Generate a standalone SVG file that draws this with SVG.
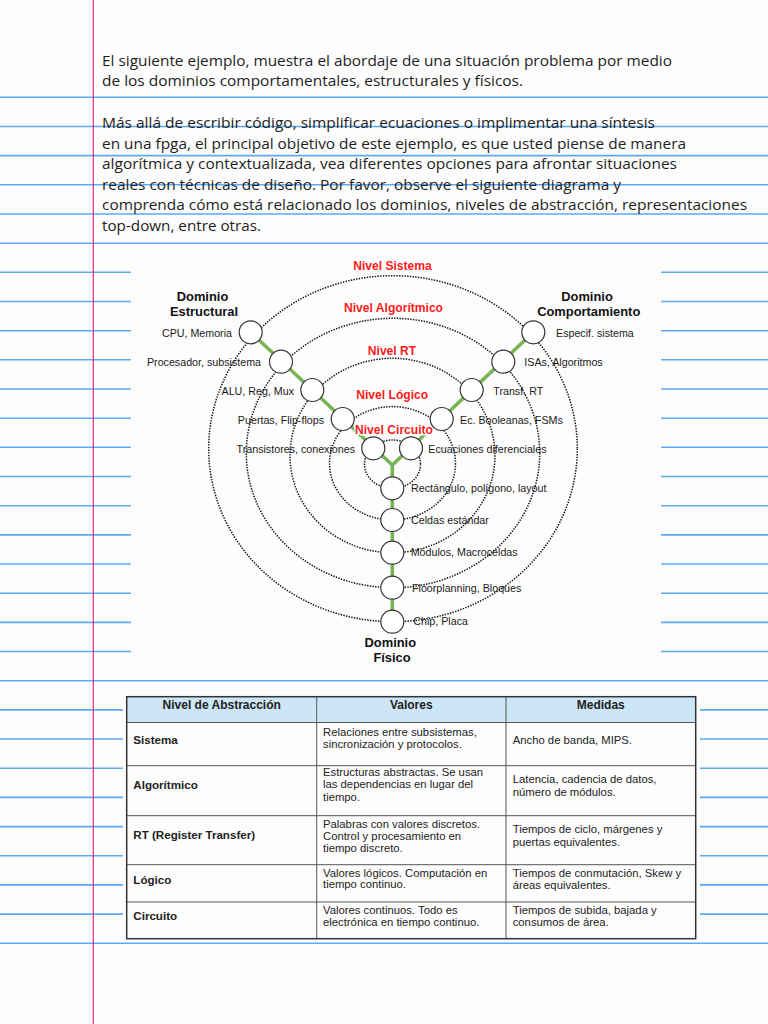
<svg xmlns="http://www.w3.org/2000/svg" width="768" height="1024" viewBox="0 0 768 1024">
<style>
.rule{stroke:#5ea9f4;stroke-width:1.6;fill:none}
.margin{stroke:#e0287f;stroke-width:1.2}
.para{font-family:"Open Sans","Noto Sans",sans-serif;font-size:15px;fill:#1e1e1e}
.ring{fill:none;stroke:#111;stroke-width:1.5;stroke-dasharray:1.4 1.3}
.axis{fill:none;stroke:#78b356;stroke-width:3.6;stroke-linejoin:round}
.node{fill:#fff;stroke:#333;stroke-width:1.2}
.lbl{font-family:"Liberation Sans",Arial,sans-serif;font-size:10.7px;fill:#1a1a1a}
.end{text-anchor:end}
.dom{font-family:"Liberation Sans",Arial,sans-serif;font-size:12.9px;font-weight:bold;fill:#111;text-anchor:middle}
.lvl{font-family:"Liberation Sans",Arial,sans-serif;font-size:12.1px;font-weight:bold;fill:#ff1a1a;text-anchor:middle;stroke:#fff;stroke-width:3;paint-order:stroke;stroke-linejoin:round}
.th{font-family:"Liberation Sans",Arial,sans-serif;font-size:12px;font-weight:bold;fill:#222;text-anchor:middle}
.tr{font-family:"Liberation Sans",Arial,sans-serif;font-size:11.6px;font-weight:bold;fill:#222}
.td{font-family:"Liberation Sans",Arial,sans-serif;font-size:11.3px;fill:#222}
.grid{stroke:#555;stroke-width:1;fill:none}
</style>
<rect width="768" height="1024" fill="#fdfdfd"/>
<g id="ruled-lines">
<path class="rule" d="M0,97.3H768M0,126.5H768M0,155.6H768M0,184.8H768M0,214H768M0,243.2H768
M0,272.3H131M661,272.3H768M0,301.5H131M661,301.5H768M0,330.7H131M661,330.7H768M0,359.8H131M661,359.8H768
M0,389H131M661,389H768M0,418.2H131M661,418.2H768M0,447.3H131M661,447.3H768M0,476.5H131M661,476.5H768
M0,505.7H131M661,505.7H768M0,534.9H131M661,534.9H768M0,564H131M661,564H768M0,593.2H131M661,593.2H768
M0,622.4H131M661,622.4H768M0,651.5H131M661,651.5H768M0,680.7H768
M0,709.9H123M700,709.9H768M0,739H123M700,739H768M0,768.2H123M700,768.2H768M0,797.4H123M700,797.4H768
M0,826.6H123M700,826.6H768M0,855.7H123M700,855.7H768M0,884.9H123M700,884.9H768M0,914.1H123M700,914.1H768
M0,943.2H768"/>
<line class="margin" x1="93.3" y1="0" x2="93.3" y2="1024"/>
</g>
<g id="intro">
<text class="para" x="102" y="65.5" textLength="570" lengthAdjust="spacingAndGlyphs">El siguiente ejemplo, muestra el abordaje de una situación problema por medio</text>
<text class="para" x="102" y="86.3" textLength="421" lengthAdjust="spacingAndGlyphs">de los dominios comportamentales, estructurales y físicos.</text>
<text class="para" x="102" y="128" textLength="553" lengthAdjust="spacingAndGlyphs">Más allá de escribir código, simplificar ecuaciones o implimentar una síntesis</text>
<text class="para" x="102" y="148.6" textLength="584" lengthAdjust="spacingAndGlyphs">en una fpga, el principal objetivo de este ejemplo, es que usted piense de manera</text>
<text class="para" x="102" y="169.2" textLength="575" lengthAdjust="spacingAndGlyphs">algorítmica y contextualizada, vea diferentes opciones para afrontar situaciones</text>
<text class="para" x="102" y="189.8" textLength="519" lengthAdjust="spacingAndGlyphs">reales con técnicas de diseño. Por favor, observe el siguiente diagrama y</text>
<text class="para" x="102" y="210.3" textLength="645" lengthAdjust="spacingAndGlyphs">comprenda cómo está relacionado los dominios, niveles de abstracción, representaciones</text>
<text class="para" x="102" y="231" textLength="159" lengthAdjust="spacingAndGlyphs">top-down, entre otras.</text>
</g>
<g id="connectors">
<ellipse class="ring" cx="393" cy="448.7" rx="184.3" ry="173"/>
<ellipse class="ring" cx="393" cy="453" rx="146.7" ry="134.7"/>
<ellipse class="ring" cx="392.5" cy="455.5" rx="102.5" ry="97.2"/>
<ellipse class="ring" cx="392.5" cy="463.3" rx="63" ry="56.7"/>
<ellipse class="ring" cx="392.5" cy="464.2" rx="28" ry="24.2"/>
<path class="axis" d="M250.7,332.3L392.3,465L533.3,332.3M392.3,465V621.7"/>
</g>
<g id="domain-labels">
<text class="dom" x="202.5" y="301.3">Dominio</text>
<text class="dom" x="204" y="315.6">Estructural</text>
<text class="dom" x="587" y="301.3">Dominio</text>
<text class="dom" x="588.7" y="315.6">Comportamiento</text>
<text class="dom" x="390.3" y="647.3">Dominio</text>
<text class="dom" x="392" y="661.9">Físico</text>
</g>
<g id="level-labels">
<text class="lvl" x="392.5" y="270.3">Nivel Sistema</text>
<text class="lvl" x="393.5" y="312">Nivel Algorítmico</text>
<text class="lvl" x="392" y="355.3">Nivel RT</text>
<text class="lvl" x="392.2" y="398.6">Nivel Lógico</text>
<text class="lvl" x="394" y="434.3">Nivel Circuito</text>
</g>
<g id="node-cpu"><circle class="node" cx="250.7" cy="332.3" r="11.5"/><text class="lbl end" x="232" y="336.5">CPU, Memoria</text></g>
<g id="node-procesador"><circle class="node" cx="281" cy="361.7" r="11.5"/><text class="lbl end" x="261" y="366.1">Procesador, subsistema</text></g>
<g id="node-alu"><circle class="node" cx="312.3" cy="390" r="11.5"/><text class="lbl end" x="294" y="394.8">ALU, Reg, Mux</text></g>
<g id="node-puertas"><circle class="node" cx="342.7" cy="419" r="11.5"/><text class="lbl end" x="324" y="423.8">Puertas, Flip-flops</text></g>
<g id="node-transistores"><circle class="node" cx="373.3" cy="448.3" r="11.5"/><text class="lbl end" x="355" y="452.8">Transistores, conexiones</text></g>
<g id="node-especif"><circle class="node" cx="533.3" cy="332.3" r="11.5"/><text class="lbl" x="556" y="336.5">Especif. sistema</text></g>
<g id="node-isas"><circle class="node" cx="503.3" cy="361.7" r="11.5"/><text class="lbl" x="524.3" y="366">ISAs, Algoritmos</text></g>
<g id="node-transf"><circle class="node" cx="471.7" cy="390" r="11.5"/><text class="lbl" x="493.3" y="394.8">Transf. RT</text></g>
<g id="node-ecbool"><circle class="node" cx="441.7" cy="419" r="11.5"/><text class="lbl" x="460" y="423.8">Ec. Booleanas, FSMs</text></g>
<g id="node-ecdif"><circle class="node" cx="411" cy="448.3" r="11.5"/><text class="lbl" x="428.3" y="452.8">Ecuaciones diferenciales</text></g>
<g id="node-rect"><circle class="node" cx="392.3" cy="488.3" r="11.5"/><text class="lbl" x="411" y="492.1">Rectángulo, polígono, layout</text></g>
<g id="node-celdas"><circle class="node" cx="392.3" cy="520" r="11.5"/><text class="lbl" x="411" y="523.8">Celdas estándar</text></g>
<g id="node-modulos"><circle class="node" cx="392.3" cy="552.7" r="11.5"/><text class="lbl" x="410.7" y="556.1">Módulos, Macroceldas</text></g>
<g id="node-floorplanning"><circle class="node" cx="392.3" cy="587.7" r="11.5"/><text class="lbl" x="412" y="591.5">Floorplanning, Bloques</text></g>
<g id="node-chip"><circle class="node" cx="392.3" cy="621.7" r="11.5"/><text class="lbl" x="413.3" y="624.8">Chip, Placa</text></g>
<g id="table">
<rect x="127" y="697" width="568.5" height="25.5" fill="#cde6f7"/>
<path class="grid" d="M127,722.5H695.5M127,765.7H695.5M127,815.7H695.5M127,864.7H695.5M127,902H695.5M316.7,697V938.8M506,697V938.8"/>
<rect x="126.7" y="696.7" width="569" height="242" fill="none" stroke="#333" stroke-width="1.5"/>
<text class="th" x="221.7" y="709.3">Nivel de Abstracción</text>
<text class="th" x="411.3" y="709.3">Valores</text>
<text class="th" x="600.8" y="709.3">Medidas</text>
<text class="tr" x="133.3" y="744.2">Sistema</text>
<text class="td" x="323" y="736.3">Relaciones entre subsistemas,</text>
<text class="td" x="323" y="748.3">sincronización y protocolos.</text>
<text class="td" x="512.7" y="744">Ancho de banda, MIPS.</text>
<text class="tr" x="133.3" y="789.2">Algorítmico</text>
<text class="td" x="323" y="775.7">Estructuras abstractas. Se usan</text>
<text class="td" x="323" y="788.3">las dependencias en lugar del</text>
<text class="td" x="323" y="801.3">tiempo.</text>
<text class="td" x="512.7" y="783.3">Latencia, cadencia de datos,</text>
<text class="td" x="512.7" y="795.7">número de módulos.</text>
<text class="tr" x="133.3" y="839.2">RT (Register Transfer)</text>
<text class="td" x="323" y="828">Palabras con valores discretos.</text>
<text class="td" x="323" y="840">Control y procesamiento en</text>
<text class="td" x="323" y="852.3">tiempo discreto.</text>
<text class="td" x="512.7" y="833.3">Tiempos de ciclo, márgenes y</text>
<text class="td" x="512.7" y="846.3">puertas equivalentes.</text>
<text class="tr" x="133.3" y="883.5">Lógico</text>
<text class="td" x="323" y="876.7">Valores lógicos. Computación en</text>
<text class="td" x="323" y="888.3">tiempo continuo.</text>
<text class="td" x="512.7" y="876.7">Tiempos de conmutación, Skew y</text>
<text class="td" x="512.7" y="889">áreas equivalentes.</text>
<text class="tr" x="133.3" y="919.9">Circuito</text>
<text class="td" x="323" y="913.7">Valores continuos. Todo es</text>
<text class="td" x="323" y="925.7">electrónica en tiempo continuo.</text>
<text class="td" x="512.7" y="914">Tiempos de subida, bajada y</text>
<text class="td" x="512.7" y="926.3">consumos de área.</text>
</g>
</svg>
